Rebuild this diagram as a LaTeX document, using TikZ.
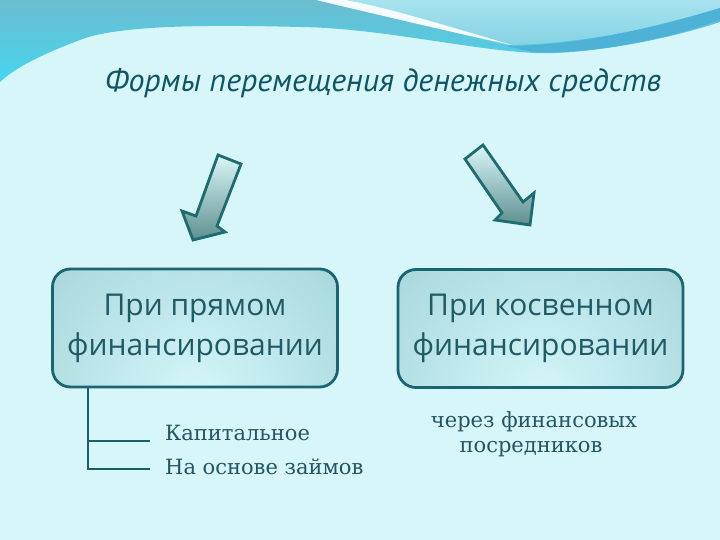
\documentclass[tikz,border=0pt]{standalone}
\usepackage{fontspec}
\setmainfont{Open Sans}
\newfontfamily\titlefont{PT Sans}
\newfontfamily\serfont{DejaVu Serif}
\definecolor{bgc}{HTML}{D6F6FA}
\definecolor{topA}{HTML}{6CBCD0}
\definecolor{topB}{HTML}{45D6EE}
\definecolor{lightA}{HTML}{A6E3EE}
\definecolor{lightB}{HTML}{86D2E4}
\definecolor{cresc}{HTML}{4DB2D6}
\definecolor{titlec}{HTML}{0F5563}
\definecolor{boxc}{HTML}{1B6570}
\definecolor{boxtext}{HTML}{1F5A66}
\definecolor{boxin}{HTML}{D4F6FA}
\definecolor{boxout}{HTML}{82BEC2}
\definecolor{treec}{HTML}{1B5F68}
\definecolor{sertext}{HTML}{235660}
\definecolor{arrowline}{HTML}{1E6B70}
\definecolor{arrowA}{HTML}{D9F7F8}
\definecolor{arrowB}{HTML}{5E8F90}
\tikzset{
  mainbox/.style={draw=boxc, line width=2.8pt, rounded corners=18pt,
    minimum width=285pt, minimum height=118pt, align=center,
    text=boxtext, font=\fontsize{30}{40}\selectfont,
    path picture={\shade[inner color=boxin, outer color=boxout]
      ([yshift=-10pt]path picture bounding box.south) circle (360pt);}},
  treeline/.style={draw=treec, line width=2.6pt},
  sertxt/.style={text=sertext, font=\serfont\fontsize{21}{25}\selectfont, inner sep=0pt},
  bigarrow/.style={draw=arrowline, line width=2.8pt, line join=miter, top color=arrowA, bottom color=arrowB}
}
\begin{document}
\begin{tikzpicture}[x=1pt,y=-1pt]
\useasboundingbox (0,0) rectangle (720,540);
\fill[bgc] (0,0) rectangle (720,540);
% top decoration
\shade[top color=topA, bottom color=topB] (0,0) -- (720,0) -- (720,22)
  .. controls (660,42) and (580,55) .. (535,53)
  .. controls (470,50) and (380,28) .. (300,27)
  .. controls (220,25) and (120,24) .. (80,40)
  .. controls (40,55) and (15,68) .. (0,82) -- cycle;
\shade[top color=lightA, bottom color=lightB] (320,0) -- (720,0) -- (720,8)
  .. controls (660,28) and (580,44) .. (508,45)
  .. controls (440,30) and (380,12) .. (320,0) -- cycle;
\fill[white, opacity=0.9] (316,0) .. controls (400,20) and (460,34) .. (512,45)
  .. controls (450,27) and (390,8) .. (345,0) -- cycle;
\fill[cresc] (506,46) .. controls (580,46) and (660,26) .. (720,8) -- (720,20)
  .. controls (660,42) and (580,55) .. (532,52) -- cycle;
% title
\node[text=titlec, font=\titlefont\itshape\fontsize{32}{38}\selectfont] (title) at (383,83) {Формы перемещения денежных средств};
% arrows
\path[bigarrow] (218,155) -- (241,164) -- (217,226) -- (225,232) -- (193,240) -- (182,211) -- (196,216) -- cycle;
\path[bigarrow] (483,145) -- (523,202) -- (534,193) -- (530,225) -- (495,220) -- (502,213) -- (465,159) -- cycle;
% boxes
\node[mainbox] (lbox) at (195,328) {При прямом\\финансировании};
\node[mainbox] (rbox) at (540.5,328.5) {При косвенном\\финансировании};
% tree
\coordinate (vx) at (88,469);
\coordinate (k) at (150,441);
\coordinate (n) at (150,469);
\draw[treeline] (lbox.south -| vx) -- (vx) -- (n);
\draw[treeline] (vx |- k) -- (k);
\node[sertxt, anchor=west] (kap) at (165,433) {Капитальное};
\node[sertxt, anchor=west] (zaim) at (165,467) {На основе займов};
\node[sertxt] (cherez) at (534,422) {через финансовых};
\node[sertxt] (posr) at (531,449) {посредников};
\end{tikzpicture}
\end{document}
